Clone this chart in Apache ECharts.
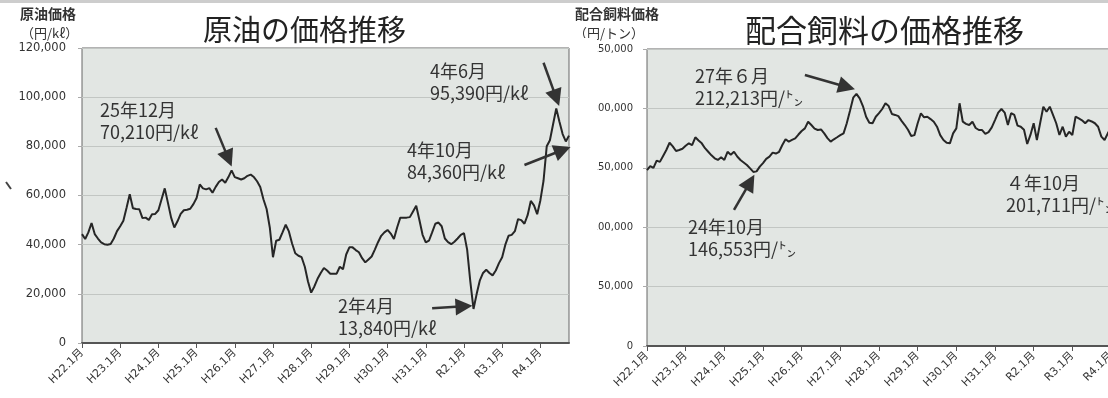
<!DOCTYPE html>
<html>
<head>
<meta charset="utf-8">
<script src="https://cdn.jsdelivr.net/npm/echarts@6/dist/echarts.min.js"></script>
<style>
  html, body { margin: 0; padding: 0; background: #fff; }
  #c { width: 1108px; height: 398px; }
</style>
</head>
<body>
<div id="c"></div>
<script>
// Era-year prefixes of the monthly categories (H22.1月 … R4.10月)
const eraYears = ['H22', 'H23', 'H24', 'H25', 'H26', 'H27', 'H28', 'H29', 'H30', 'H31', 'R2', 'R3', 'R4'];
const monthsInLastYear = 10;

// Crude oil price, 円/kℓ, monthly from H22.1 to R4.10
const oilPrice = [
  44300, 42300, 45000, 48800, 44300, 42500, 40900, 40200, 40000, 40300, 42500, 45500,
  47500, 49700, 55000, 60500, 54800, 54500, 54400, 50800, 51000, 50000, 52400, 52500,
  54000, 58500, 62900, 57000, 51000, 47000, 49500, 52500, 54000, 54200, 54600, 56500,
  59000, 64500, 62900, 62500, 63000, 61100, 63500, 65500, 66500, 65200, 67500, 70210,
  67500, 67000, 66500, 67000, 68000, 68500, 67500, 65800, 63500, 58500, 54500, 47000,
  34900, 41600, 42000, 45000, 48100, 45400, 40500, 36500, 35500, 34900, 31000, 25000,
  20500, 23000, 26100, 28500, 30500, 29500, 28200, 28200, 28200, 31000, 30000, 36000,
  38900, 38900, 37800, 36900, 34500, 32800, 34000, 35200, 38000, 41000, 43600, 45000,
  46000, 44500, 42300, 47000, 51000, 51000, 51000, 51200, 53500, 55800, 50000, 44000,
  40900, 41600, 45000, 48500, 49000, 47500, 42500, 41000, 40200, 41200, 42500, 44000,
  44700, 38000, 25000, 13840, 20000, 25500, 28500, 29800, 28500, 27500, 29500, 32500,
  34900, 40000, 43600, 44000, 45500, 50400, 50000, 48500, 52000, 57800, 56000, 52400,
  58000, 66000, 80000, 82500, 89000, 95390, 90000, 85000, 82000, 84360
];

// Compound feed price, 円/トン, monthly from H22.1 to R4.10
const feedPrice = [
  148100, 151500, 150000, 156000, 155000, 160000, 165000, 171100, 168000, 164100, 165000, 166000,
  168500, 170600, 169000, 175700, 173000, 170600, 166500, 163500, 160500, 158000, 156600, 158800,
  156600, 163500, 161000, 163500, 159500, 156600, 154500, 152400, 149500, 146553, 147000, 151000,
  154000, 157500, 159400, 162800, 162000, 163500, 169200, 174000, 172000, 173500, 174800, 178000,
  181000, 183200, 188800, 186000, 183000, 181800, 182300, 179000, 175000, 172000, 174000, 175700,
  177500, 179000, 187500, 198000, 209000, 212213, 208500, 202000, 193000, 188000, 187500, 193000,
  196000, 199500, 204300, 202000, 195300, 194500, 193500, 189500, 186000, 182000, 176800, 177500,
  187500, 195900, 192500, 193000, 191000, 188800, 184600, 177500, 173400, 171000, 170600, 179000,
  183200, 204300, 188800, 187000, 186000, 188800, 183500, 181800, 181800, 178500, 180000, 184000,
  190200, 196500, 199500, 196500, 186000, 196000, 194500, 185500, 184600, 182000, 170000, 177700,
  187500, 173400, 187500, 201400, 197200, 201400, 194500, 187500, 177600, 184600, 176200, 180400,
  177600, 193000, 191500, 190000, 187500, 190200, 189000, 187500, 184600, 176200, 173400, 179000,
  183500, 182000, 188500, 192000, 190500, 196500, 198000, 197000, 200800, 201711
];

// Callout arrows: [start, end] as [month index, price]
const oilArrows = [
  [[42, 87500], [46, 75000]],
  [[145, 114000], [149, 99700]],
  [[139, 72400], [151, 78500]],
  [[110, 14100], [120, 14900]]
];
const feedArrows = [
  [[49, 228100], [62, 218000]],
  [[27, 114500], [32, 138000]]
];

// Monthly category labels built from the era years
const months = [];
eraYears.forEach((y, i) => {
  const n = i === eraYears.length - 1 ? monthsInLastYear : 12;
  for (let mo = 1; mo <= n; mo++) months.push(y + '.' + mo + '月');
});

const tickFont = '"DejaVu Sans", "Noto Sans CJK JP", sans-serif';
const jpFont = '"Noto Sans CJK JP", sans-serif';
const plotBg = '#e2e6e3';
const lineColor = '#262626';
const arrowColor = '#333';

function xAxisFor(gridIndex) {
  return {
    type: 'category', gridIndex, data: months, boundaryGap: false,
    axisLine: { lineStyle: { color: '#555', width: 2 } },
    axisTick: { interval: 11, length: 5, lineStyle: { color: '#555' } },
    axisLabel: { interval: 11, rotate: 45, margin: 8, fontSize: 11, fontFamily: tickFont, color: '#333' },
    splitLine: { show: false }
  };
}

function arrowMarks(list) {
  return {
    silent: true,
    symbol: ['none', 'triangle'],
    symbolSize: 17,
    label: { show: false },
    emphasis: { disabled: true },
    lineStyle: { color: arrowColor, width: 2.5, type: 'solid' },
    itemStyle: { color: arrowColor },
    data: list.map(([a, b]) => [{ coord: a }, { coord: b }])
  };
}

function note(x, y, text, size) {
  return {
    type: 'text', x, y, z: 50,
    style: {
      text, fill: '#333', font: (size || 18) + 'px ' + jpFont,
      align: 'left', verticalAlign: 'middle', lineHeight: 22
    }
  };
}

function caption(x, y, text, font) {
  return { type: 'text', x, y, style: { text, fill: '#333', font, align: 'left', verticalAlign: 'middle' } };
}

const chart = echarts.init(document.getElementById('c'));
chart.setOption({
  animation: false,
  backgroundColor: '#fff',
  grid: [
    { left: 82, top: 48, width: 487, height: 295, outerBoundsMode: 'none', containLabel: false,
      show: true, backgroundColor: plotBg, borderColor: '#666', borderWidth: 1 },
    { left: 647, top: 49, width: 493, height: 297, outerBoundsMode: 'none', containLabel: false,
      show: true, backgroundColor: plotBg, borderColor: '#666', borderWidth: 1 }
  ],
  xAxis: [xAxisFor(0), xAxisFor(1)],
  yAxis: [
    {
      type: 'value', gridIndex: 0, min: 0, max: 120000, interval: 20000,
      axisLine: { show: false },
      axisTick: { show: true, length: 4, lineStyle: { color: '#aaa' } },
      axisLabel: { margin: 16, fontSize: 11.5, fontFamily: tickFont, color: '#333' },
      splitLine: { lineStyle: { color: '#c2c6c3', width: 1 } }
    },
    {
      type: 'value', gridIndex: 1, min: 0, max: 250000, interval: 50000,
      axisLine: { show: false },
      axisTick: { show: true, length: 4, lineStyle: { color: '#aaa' } },
      axisLabel: { margin: 14, fontSize: 10, fontFamily: tickFont, color: '#333' },
      splitLine: { lineStyle: { color: '#c2c6c3', width: 1 } }
    }
  ],
  series: [
    {
      name: '原油価格', type: 'line', xAxisIndex: 0, yAxisIndex: 0, data: oilPrice,
      showSymbol: false, symbol: 'none', lineStyle: { color: lineColor, width: 2 },
      markLine: arrowMarks(oilArrows)
    },
    {
      name: '配合飼料価格', type: 'line', xAxisIndex: 1, yAxisIndex: 1, data: feedPrice,
      showSymbol: false, symbol: 'none', lineStyle: { color: lineColor, width: 2 },
      markLine: arrowMarks(feedArrows)
    }
  ],
  graphic: [
    { type: 'rect', shape: { x: 0, y: 0, width: 1108, height: 3 }, style: { fill: '#cdcdcd' }, z: 60 },
    { type: 'line', shape: { x1: 6, y1: 182, x2: 11, y2: 189 }, style: { stroke: '#444', lineWidth: 2 }, z: 60 },
    // white margin between the two panels trims the leading digits of the feed axis labels
    { type: 'rect', shape: { x: 573, y: 38, width: 24, height: 200 }, style: { fill: '#fff' }, z: 100 },

    { type: 'text', x: 203, y: 30, style: { text: '原油の価格推移', fill: '#222', font: '29px ' + jpFont, align: 'left', verticalAlign: 'middle' } },
    { type: 'text', x: 745, y: 30, style: { text: '配合飼料の価格推移', fill: '#222', font: '31px ' + jpFont, align: 'left', verticalAlign: 'middle' } },

    caption(20, 14, '原油価格', 'bold 14px ' + jpFont),
    caption(21, 33, '（円/kℓ）', '13px ' + jpFont),
    caption(575, 14, '配合飼料価格', 'bold 14px ' + jpFont),
    caption(574, 33, '（円/トン）', '13px ' + jpFont),

    note(100, 121, '25年12月\n70,210円/kℓ'),
    note(430, 82, '4年6月\n95,390円/kℓ'),
    note(407, 161, '4年10月\n84,360円/kℓ'),
    note(338, 317, '2年4月\n13,840円/kℓ'),

    note(695, 87, '27年６月\n212,213円/㌧'),
    note(688, 238, '24年10月\n146,553円/㌧'),
    note(1006, 194, '４年10月\n201,711円/㌧')
  ]
});
</script>
</body>
</html>
